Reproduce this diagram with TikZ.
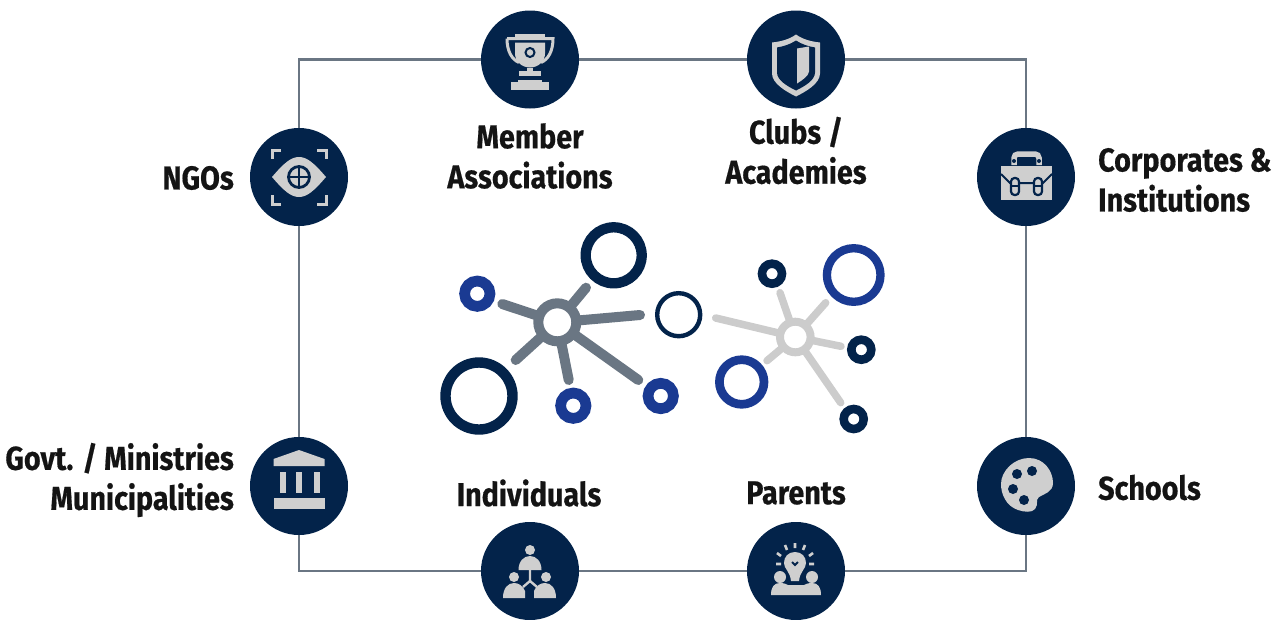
\documentclass[tikz,border=0pt]{standalone}
\usepackage{fontspec}
\newfontfamily\lab[FakeStretch=0.87,BoldFeatures={FakeBold=0.5}]{Fira Sans}
\definecolor{navy}{HTML}{03234A}
\definecolor{iconc}{HTML}{CFCFCF}
\definecolor{slate}{HTML}{6A7683}
\definecolor{royal}{HTML}{1A3A92}
\definecolor{pale}{HTML}{CCCCCC}
\tikzset{
  badge/.style={circle,fill=navy,minimum size=98pt,inner sep=0pt,outer sep=0pt},
  frameline/.style={draw=slate,line width=2.4pt},
  label/.style={font=\lab\bfseries\fontsize{33}{40}\selectfont,text=black!92,inner sep=0pt,align=center},
  ic/.style={fill=iconc,draw=none},
  icl/.style={draw=iconc,line width=3pt},
  nv/.style={fill=navy,draw=none},
  nvl/.style={draw=navy,line width=2pt},
  ringb/.style n args={3}{circle,draw=#1,minimum size=#2pt,line width=#3pt,inner sep=0pt,fill=white},
  spokedark/.style={draw=slate,line width=10pt,line cap=round},
  spokelight/.style={draw=pale,line width=7.5pt,line cap=round}
}
\begin{document}
\begin{tikzpicture}[x=1pt,y=-1pt]
\useasboundingbox (0,0) rectangle (1283,619);
% badges
\node[badge] (member) at (530,59.5) {};
\node[badge] (clubs) at (796,59.5) {};
\node[badge] (ngo) at (299,177) {};
\node[badge] (corp) at (1026,177) {};
\node[badge] (govt) at (299,486) {};
\node[badge] (schools) at (1026,486) {};
\node[badge] (indiv) at (530,571) {};
\node[badge] (parents) at (796,571) {};
% frame connectors
\draw[frameline] (ngo) |- (member);
\draw[frameline] (member) -- (clubs);
\draw[frameline] (clubs) -| (corp);
\draw[frameline] (corp) -- (schools);
\draw[frameline] (schools) |- (parents);
\draw[frameline] (parents) -- (indiv);
\draw[frameline] (indiv) -| (govt);
\draw[frameline] (govt) -- (ngo);
% labels
\node[label] (tmember) at (530,156) {Member\\Associations};
\node[label] (tclubs) at (796,150.5) {Clubs /\\Academies};
\node[label,anchor=east] (tngo) at (234,178) {NGOs};
\node[label,anchor=west,align=left] (tcorp) at (1098,180) {Corporates \&\\Institutions};
\node[label,anchor=east,align=right] (tgovt) at (234,480) {Govt. / Ministries\\Municipalities};
\node[label] (tindiv) at (529,493) {Individuals};
\node[label] (tparents) at (796,493) {Parents};
\node[label,anchor=west] (tschools) at (1098,487.5) {Schools};
% trophy
\begin{scope}[shift={(member.center)}]
  \draw[icl] (-23,-21) -- (23,-21) .. controls (23,-8) and (18,0) .. (11,3);
  \draw[icl] (-23,-21) .. controls (-23,-8) and (-18,0) .. (-11,3);
  \fill[ic] (-15,-26) rectangle (15,-21);
  \fill[ic] (-15,-17) -- (15,-17) -- (15,-6) .. controls (15,2) and (8,8) .. (0,8) .. controls (-8,8) and (-15,2) .. (-15,-6) -- cycle;
  \draw[nvl] (0,-7) circle (4.5);
  \fill[ic] (-11,11) rectangle (11,16);
  \fill[ic] (-3,8) rectangle (3,11);
  \fill[ic] (-19,22) rectangle (19,30);
  \fill[ic] (-12,20) rectangle (12,23);
\end{scope}
% shield
\begin{scope}[shift={(clubs.center)}]
  \fill[ic] (0,-25) .. controls (7,-20) and (15,-18) .. (24,-17) -- (24,14) .. controls (24,24) and (10,32) .. (0,37) .. controls (-10,32) and (-24,24) .. (-24,14) -- (-24,-17) .. controls (-15,-18) and (-7,-20) .. (0,-25) -- cycle;
  \fill[nv] (0,-19) .. controls (6,-15) and (13,-13) .. (19,-12) -- (19,13) .. controls (19,21) and (8,27) .. (0,31) .. controls (-8,27) and (-19,21) .. (-19,13) -- (-19,-12) .. controls (-13,-13) and (-6,-15) .. (0,-19) -- cycle;
  \fill[ic] (1,-11) -- (13,-13) -- (13,12) .. controls (13,16) and (6,21) .. (1,24) -- cycle;
\end{scope}
% eye
\begin{scope}[shift={(ngo.center)}]
  \fill[ic] (-27,0) .. controls (-15,-14) and (-8,-20) .. (0,-20) .. controls (8,-20) and (15,-14) .. (27,0) .. controls (15,14) and (8,20) .. (0,20) .. controls (-8,20) and (-15,14) .. (-27,0) -- cycle;
  \draw[draw=navy,line width=2.8pt] (0,0) circle (10.5);
  \draw[draw=navy,line width=2pt] (-10,0) -- (10,0) (0,-10) -- (0,10);
  \draw[icl] (-18,-27) -- (-27,-27) -- (-27,-18);
  \draw[icl] (18,-27) -- (27,-27) -- (27,-18);
  \draw[icl] (-18,27) -- (-27,27) -- (-27,18);
  \draw[icl] (18,27) -- (27,27) -- (27,18);
\end{scope}
% briefcase
\begin{scope}[shift={(corp.center)}]
  \draw[draw=iconc,line width=5.5pt,rounded corners=4pt] (-12,-12) -- (-12,-23) -- (13,-23) -- (13,-12);
  \fill[ic] (-25,-11) rectangle (26,23);
  \draw[draw=navy,line width=2pt] (-25,-3) -- (-16,6) -- (17,6) -- (26,-3);
  \draw[draw=navy,line width=2.2pt,fill=iconc,rounded corners=3.5pt] (-15,1) rectangle (-7,18);
  \draw[draw=navy,line width=2.2pt,fill=iconc,rounded corners=3.5pt] (8,1) rectangle (16,18);
  \draw[draw=navy,line width=1.6pt] (-15,9) -- (-7,9) (8,9) -- (16,9);
  \fill[navy] (-12,-16) circle (2) (13,-16) circle (2);
\end{scope}
% bank
\begin{scope}[shift={(govt.center)}]
  \fill[ic] (-25.5,-27) -- (0,-36) -- (25.5,-27) -- (25.5,-20) -- (-25.5,-20) -- cycle;
  \fill[ic] (-19,-14) rectangle (-13,7);
  \fill[ic] (-3,-14) rectangle (3,7);
  \fill[ic] (15,-14) rectangle (21,7);
  \fill[ic] (-25.5,12) rectangle (25.5,23);
\end{scope}
% palette
\begin{scope}[shift={(schools.center)}]
  \fill[ic] (3,-28) .. controls (18,-28) and (27,-15) .. (27,-3) .. controls (27,6) and (18,8) .. (13,11) .. controls (9,14) and (13,18) .. (9,23) .. controls (6,27) and (-2,26) .. (-8,24) .. controls (-20,20) and (-25,8) .. (-25,-2) .. controls (-25,-15) and (-12,-28) .. (3,-28) -- cycle;
  \fill[navy] (-9,-12) circle (5) (6,-15) circle (5) (-13,3) circle (5) (-2,14) circle (5);
\end{scope}
% individuals
\begin{scope}[shift={(indiv.center)}]
  \fill[ic] (0,-21) circle (5);
  \fill[ic] (-11.5,-1) .. controls (-11.5,-10) and (-6,-15) .. (0,-15) .. controls (6,-15) and (11.5,-10) .. (11.5,-1) -- cycle;
  \draw[draw=iconc,line width=2.4pt] (0,-1) -- (0,10) (0,10) -- (-7,16) (0,10) -- (7,16);
  \fill[ic] (-16,6) circle (5) (16,6) circle (5);
  \fill[ic] (-27,27) .. controls (-27,17) and (-22,12) .. (-16,12) .. controls (-11,12) and (-7,15) .. (-5,20) -- (-5,27) -- cycle;
  \fill[ic] (26,27) .. controls (26,17) and (21,12) .. (15,12) .. controls (10,12) and (6,15) .. (4,20) -- (4,27) -- cycle;
\end{scope}
% parents
\begin{scope}[shift={(parents.center)}]
  \fill[ic] (-1,-19) .. controls (6,-19) and (10,-14) .. (10,-8) .. controls (10,-2) and (4,0) .. (3,10) -- (-5,10) .. controls (-6,0) and (-12,-2) .. (-12,-8) .. controls (-12,-14) and (-8,-19) .. (-1,-19) -- cycle;
  \draw[draw=navy,line width=2pt] (-4,-9) -- (-1,-6) -- (2,-9);
  \draw[draw=iconc,line width=2.6pt] (-1,-23) -- (-1,-28) (-9,-21) -- (-11,-26) (7,-21) -- (9,-26) (-15,-15) -- (-19,-18) (13,-15) -- (17,-18) (-15,-7) -- (-20,-7) (13,-7) -- (18,-7);
  \fill[ic] (-16,6) circle (6) (16,6) circle (6);
  \fill[ic] (-25,24) .. controls (-25,16) and (-22,12) .. (-16,12) .. controls (-12,12) and (-10,13) .. (-8,14) -- (8,14) .. controls (10,13) and (12,12) .. (16,12) .. controls (22,12) and (25,16) .. (25,24) -- cycle;
\end{scope}
% left network
\coordinate (hubL) at (557.3,322.3);
\coordinate (a1) at (502.3,304);
\coordinate (a2) at (586,287.7);
\coordinate (a3) at (640,315);
\coordinate (a4) at (515.7,360);
\coordinate (a5) at (568.7,380);
\coordinate (a6) at (638.3,380);
\foreach \e in {a1,a2,a3,a4,a5,a6} \draw[spokedark] (hubL) -- (\e);
\node[ringb={slate}{38}{10}] (hl) at (hubL) {};
\node[ringb={navy}{56}{10.3}] (n1) at (613.7,255.3) {};
\node[ringb={royal}{25.4}{10.7}] (n2) at (477.3,293.7) {};
\node[ringb={navy}{43}{4.4}] (n3) at (678.7,314.7) {};
\node[ringb={navy}{67}{10.4}] (n4) at (479,396) {};
\node[ringb={royal}{25.4}{10.7}] (n5) at (573.3,405.7) {};
\node[ringb={royal}{25.4}{10.7}] (n6) at (660.7,396) {};
% right network
\coordinate (hubR) at (795.3,337);
\coordinate (b1) at (715.7,318);
\coordinate (b2) at (780,292.7);
\coordinate (b3) at (825.7,302.7);
\coordinate (b4) at (841,346.3);
\coordinate (b5) at (767,360.7);
\coordinate (b6) at (840.7,402.7);
\foreach \e in {b1,b2,b3,b4,b5,b6} \draw[spokelight] (hubR) -- (\e);
\node[ringb={pale}{30.6}{8}] (hr) at (hubR) {};
\node[ringb={navy}{20}{8.6}] (m1) at (772,273.7) {};
\node[ringb={royal}{53.6}{8.3}] (m2) at (853.7,275) {};
\node[ringb={navy}{20}{8.6}] (m3) at (861.3,349.7) {};
\node[ringb={navy}{20}{8.6}] (m4) at (853.7,419) {};
\node[ringb={royal}{44.6}{8.7}] (m5) at (741.7,382) {};
\end{tikzpicture}
\end{document}
